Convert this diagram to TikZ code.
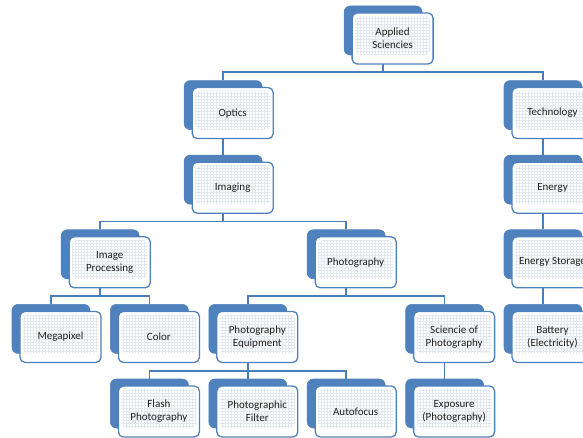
\documentclass[tikz,border=0pt]{standalone}
\usepackage{fontspec}
\setmainfont{Carlito}
\usetikzlibrary{patterns,backgrounds}

\definecolor{boxblue}{HTML}{4F81BD}
\definecolor{linkblue}{HTML}{4A7EBB}
\definecolor{gridtint}{HTML}{E2E8F0}
\definecolor{labelgray}{HTML}{202020}

\tikzset{
  backbox/.style={fill=boxblue, draw=boxblue, line width=0.6pt,
    rounded corners=6pt, minimum width=78pt, minimum height=49pt, inner sep=0pt},
  frontbox/.style={fill=white, draw=boxblue, line width=1.3pt,
    rounded corners=5pt, minimum width=81pt, minimum height=51pt, inner sep=0pt,
    align=center, text=labelgray,
    font=\fontsize{11}{13}\selectfont,
    path picture={
      \fill[pattern=grid, pattern color=gridtint]
        ([xshift=3pt,yshift=-3pt]path picture bounding box.north west)
        rectangle ([xshift=-3pt,yshift=9pt]path picture bounding box.south east);
    }},
  conn/.style={draw=linkblue, line width=1.6pt}
}

% one chart entry: a solid blue card behind a white, grid-tinted card
\newcommand{\orgbox}[4]{%
  \node[backbox] (#1-b) at (#2-9.5,#3-8) {};
  \node[frontbox] (#1) at (#2,#3) {#4};
}
% elbow link from a parent card down to a child card
\newcommand{\orglink}[2]{%
  \draw[conn] (#1-b.center) -- ++(0,41.8) -| (#2-b.north);
}

\begin{document}
\begin{tikzpicture}[x=1pt,y=-1pt]
  \useasboundingbox (0,0) rectangle (583,438);
  \clip (0,0) rectangle (583,438);

  % level 0
  \orgbox{app}{392.6}{38.5}{Applied\\Sciencies}
  % level 1
  \orgbox{opt}{232.7}{113.1}{Optics}
  \orgbox{tec}{552.5}{113.1}{Technology}
  % level 2
  \orgbox{img}{232.7}{187.7}{Imaging}
  \orgbox{ene}{552.5}{187.7}{Energy}
  % level 3
  \orgbox{ipr}{109.7}{262.3}{Image\\Processing}
  \orgbox{pho}{355.7}{262.3}{Photography}
  \orgbox{sto}{552.5}{262.3}{Energy Storage}
  % level 4
  \orgbox{meg}{60.5}{336.9}{Megapixel}
  \orgbox{col}{158.9}{336.9}{Color}
  \orgbox{equ}{257.3}{336.9}{Photography\\Equipment}
  \orgbox{sci}{454.1}{336.9}{Sciencie of\\Photography}
  \orgbox{bat}{552.5}{336.9}{Battery\\(Electricity)}
  % level 5
  \orgbox{fla}{158.9}{411.5}{Flash\\Photography}
  \orgbox{fil}{257.3}{411.5}{Photographic\\Filter}
  \orgbox{aut}{355.7}{411.5}{Autofocus}
  \orgbox{exp}{454.1}{411.5}{Exposure\\(Photography)}

  \begin{scope}[on background layer]
    \orglink{app}{opt}
    \orglink{app}{tec}
    \orglink{opt}{img}
    \orglink{tec}{ene}
    \orglink{img}{ipr}
    \orglink{img}{pho}
    \orglink{ene}{sto}
    \orglink{ipr}{meg}
    \orglink{ipr}{col}
    \orglink{pho}{equ}
    \orglink{pho}{sci}
    \orglink{sto}{bat}
    \orglink{equ}{fla}
    \orglink{equ}{fil}
    \orglink{equ}{aut}
    \orglink{sci}{exp}
  \end{scope}
\end{tikzpicture}
\end{document}
